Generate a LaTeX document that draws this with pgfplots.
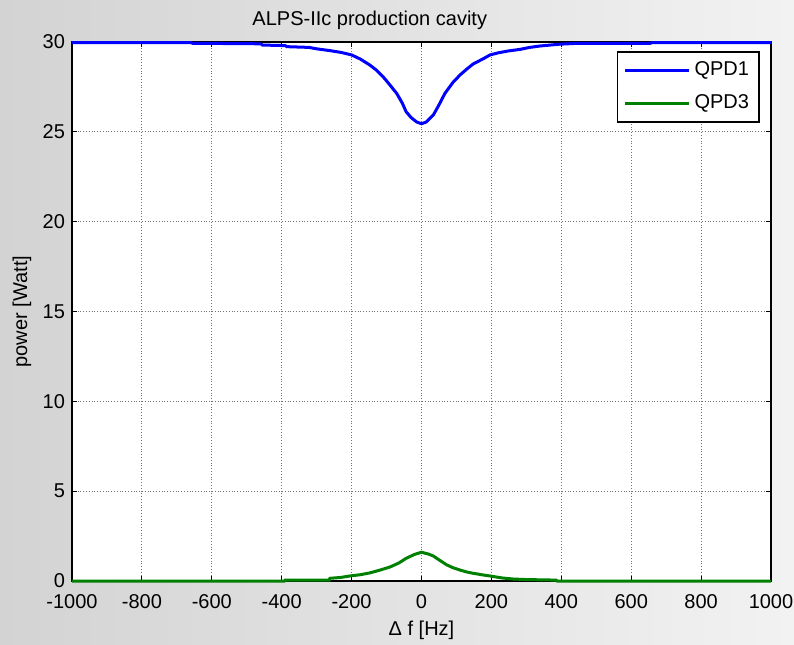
\documentclass[border=0pt]{standalone}
\usepackage{fontspec}
\setmainfont{Liberation Sans}
\usepackage{pgfplots}
\pgfplotsset{compat=1.18}
\definecolor{mblue}{RGB}{0,0,255}
\definecolor{mgreen}{RGB}{0,128,0}
\definecolor{bgl}{RGB}{211,211,211}
\definecolor{bgr}{RGB}{242,242,242}
\begin{document}
\begin{tikzpicture}
\useasboundingbox (0,0) rectangle (397pt,322pt);
\shade[left color=bgl, right color=bgr] (0,0) rectangle (397pt,322pt);
\begin{axis}[
  at={(36pt,31.5pt)}, anchor=south west,
  width=349.5pt, height=269.5pt, scale only axis,
  xmin=-1000, xmax=1000, ymin=0, ymax=30,
  xtick={-1000,-800,...,1000}, ytick={0,5,...,30},
  clip=false,
  axis background/.style={fill=white},
  axis line style={line width=0.8pt},
  tick style={black, line width=0.5pt},
  major tick length=2.5pt,
  grid=major,
  major grid style={densely dotted, black!55, line width=0.5pt},
  /pgf/number format/assume math mode=true,
  /pgf/number format/1000 sep={},
  xticklabel shift=3pt,
  every axis title shift=0pt,
  title={ALPS-IIc production cavity},
  title style={at={(axis description cs:0.426,1.041)}, anchor=center},
  xlabel={Δ f [Hz]},
  xlabel style={at={(axis description cs:0.5,-0.0918)}, anchor=center},
  ylabel={power [Watt]},
  ylabel style={at={(axis description cs:-0.0715,0.5)}, anchor=center},
  legend style={at={(rel axis cs:0.984,0.983)}, anchor=north east,
    draw=black, line width=0.8pt, fill=white, inner sep=3pt,
    row sep=4pt},
  legend cell align=left,
  legend image code/.code={\draw[#1, line width=1.5pt] (0pt,0pt) -- (32pt,0pt);},
]
\addplot[mblue, line width=1.5pt] coordinates {
(-1000,29.97) (-660,29.97) (-655,29.93) (-460,29.9) (-455,29.83) (-390,29.8)
(-385,29.74) (-322,29.7) (-300,29.62) (-262,29.52) (-230,29.42) (-200,29.28)
(-175,29.05) (-148,28.72) (-130,28.45) (-110,28.07) (-90,27.6) (-71,27.14)
(-55,26.6) (-44,26.12) (-30,25.8) (-14,25.55) (0,25.45) (14,25.55) (34,25.94)
(50,26.5) (67,27.14) (90,27.75) (110,28.16) (130,28.5) (148,28.78) (175,29.05)
(196,29.28) (220,29.4) (248,29.5) (282,29.59) (310,29.7) (340,29.78)
(397,29.88) (450,29.93) (655,29.93) (660,29.97) (1000,29.97)
};
\addlegendentry{QPD1}
\addplot[mgreen, line width=1.5pt] coordinates {
(-1000,0) (-392,0) (-390,0.05) (-264,0.05) (-262,0.15) (-230,0.2) (-205,0.28)
(-175,0.35) (-148,0.45) (-120,0.6) (-90,0.78) (-65,1.0) (-44,1.26) (-20,1.48)
(0,1.6) (20,1.5) (34,1.39) (50,1.18) (72,0.9) (90,0.74) (110,0.61) (130,0.5)
(148,0.43) (175,0.34) (196,0.28) (230,0.17) (262,0.11) (300,0.08) (385,0.05)
(388,0) (1000,0)
};
\addlegendentry{QPD3}
\end{axis}
\end{tikzpicture}
\end{document}
